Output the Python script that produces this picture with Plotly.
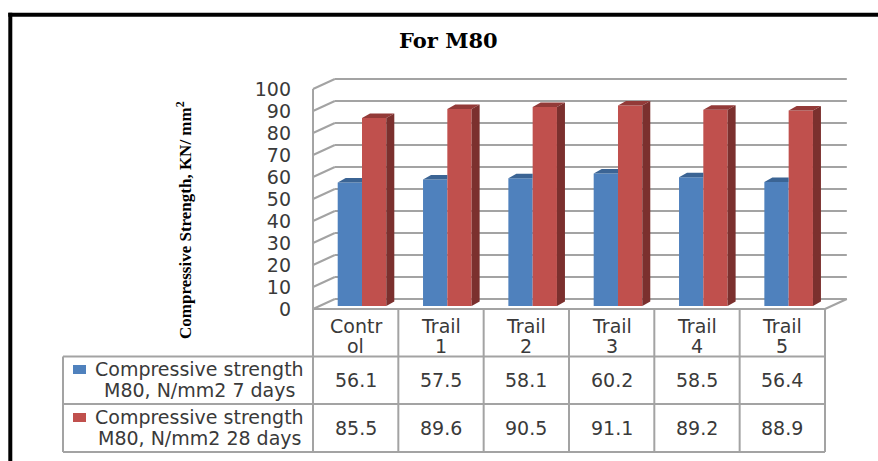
import plotly.graph_objects as go

# Chart data
categories = ["Contr<br>ol", "Trail<br>1", "Trail<br>2", "Trail<br>3", "Trail<br>4", "Trail<br>5"]
series_names = ["Compressive strength<br>M80, N/mm2 7 days", "Compressive strength<br>M80, N/mm2 28 days"]
days_7 = [56.1, 57.5, 58.1, 60.2, 58.5, 56.4]
days_28 = [85.5, 89.6, 90.5, 91.1, 89.2, 88.9]
value_ticks = [0, 10, 20, 30, 40, 50, 60, 70, 80, 90, 100]

W, H = 878, 461
BLUE, BLUE_TOP = "#4F81BD", "#3B6494"
RED, RED_TOP, RED_SIDE = "#C0504D", "#933A38", "#7B302E"
GRID = "#A3A3A3"
TEXT = "#3A3A3A"

# Scales of the bar plane, which fills the whole canvas
CAT_PX, VAL_PX = 85.33, 2.2
X0_PX, Y0_PX = 362.0, 306.0
x_range = [(0 - X0_PX) / CAT_PX, (W - X0_PX) / CAT_PX]
y_range = [(Y0_PX - H) / VAL_PX, Y0_PX / VAL_PX]

# Offsets of the perspective, in axis units
FRONT_DX, FRONT_DY = -6.3 / CAT_PX, -3.0 / VAL_PX
BACK_DX, BACK_DY = 15.5 / CAT_PX, 7.0 / VAL_PX
BAR_DX, BAR_DY = 8.0 / CAT_PX, 4.5 / VAL_PX
BAR_W = 24.3 / CAT_PX
FRONT_LEFT, FRONT_RIGHT = -0.5 + FRONT_DX, 5.5 + FRONT_DX


def px(x):
    return x / W


def py(y):
    return 1 - y / H


shapes = []


def line(x0, y0, x1, y1, color=GRID, width=2, ref="x", layer="below"):
    yref = "y" if ref == "x" else "paper"
    xref = "x" if ref == "x" else "paper"
    shapes.append(dict(type="line", x0=x0, y0=y0, x1=x1, y1=y1, xref=xref, yref=yref,
                       layer=layer, line=dict(color=color, width=width)))


# Walls of the 3-D plot area
for v in value_ticks:
    fy = v + FRONT_DY
    by = v + BACK_DY
    line(FRONT_LEFT, fy, FRONT_LEFT + BACK_DX - FRONT_DX, by)
    line(FRONT_LEFT + BACK_DX - FRONT_DX, by, FRONT_RIGHT + BACK_DX - FRONT_DX, by)
line(FRONT_LEFT, FRONT_DY, FRONT_LEFT, 100 + FRONT_DY)
line(FRONT_RIGHT, FRONT_DY, FRONT_RIGHT + BACK_DX - FRONT_DX, BACK_DY)

# Data table grid
col_edges = [313 + 85.33 * i for i in range(7)]
row_edges = [309, 356.5, 404, 452]
TBL_LEFT = 63
line(px(col_edges[0]), py(row_edges[0]), px(col_edges[-1]), py(row_edges[0]), ref="paper")
for y in row_edges[1:]:
    line(px(TBL_LEFT), py(y), px(col_edges[-1]), py(y), ref="paper")
for x in col_edges:
    line(px(x), py(row_edges[0]), px(x), py(row_edges[-1]), ref="paper")
line(px(TBL_LEFT), py(row_edges[1]), px(TBL_LEFT), py(row_edges[-1]), ref="paper")

# Page frame
shapes.append(dict(type="line", x0=px(10.3), x1=px(10.3), y0=py(12.7), y1=py(H), xref="paper", yref="paper",
                   layer="above", line=dict(color="#000000", width=4)))
shapes.append(dict(type="line", x0=px(8.3), x1=px(W), y0=py(14.7), y1=py(14.7), xref="paper", yref="paper",
                   layer="above", line=dict(color="#000000", width=4)))

# Legend keys inside the table
for top, color in [(365, BLUE), (413, RED)]:
    shapes.append(dict(type="rect", x0=px(73), x1=px(86), y0=py(top), y1=py(top + 9), xref="paper", yref="paper",
                       fillcolor=color, line=dict(width=0), layer="above"))

traces = [
    go.Bar(x=list(range(6)), y=days_7, name="7 days", marker=dict(color=BLUE, line=dict(width=0))),
    go.Bar(x=list(range(6)), y=days_28, name="28 days", marker=dict(color=RED, line=dict(width=0))),
]


def polygons(faces, color):
    xs, ys = [], []
    for face in faces:
        xs += [p[0] for p in face] + [face[0][0], None]
        ys += [p[1] for p in face] + [face[0][1], None]
    return go.Scatter(x=xs, y=ys, mode="lines", fill="toself", fillcolor=color,
                      line=dict(width=0), hoverinfo="skip", showlegend=False, cliponaxis=False)


# Top and side faces follow the bar heights
blue_tops = [[(i - BAR_W, v), (i, v), (i, v + BAR_DY), (i - BAR_W + BAR_DX, v + BAR_DY)]
             for i, v in enumerate(days_7)]
red_tops = [[(i, v), (i + BAR_W, v), (i + BAR_W + BAR_DX, v + BAR_DY), (i + BAR_DX, v + BAR_DY)]
            for i, v in enumerate(days_28)]
red_sides = [[(i + BAR_W, 0), (i + BAR_W + BAR_DX, BAR_DY), (i + BAR_W + BAR_DX, v + BAR_DY), (i + BAR_W, v)]
             for i, v in enumerate(days_28)]
traces += [polygons(blue_tops, BLUE_TOP), polygons(red_tops, RED_TOP), polygons(red_sides, RED_SIDE)]

# Carries the value axis, which sits on the front edge of the plot area
traces.append(go.Scatter(x=[0], y=[0], yaxis="y2", mode="markers", marker=dict(opacity=0),
                         hoverinfo="skip", showlegend=False))

annotations = [
    dict(text="<b>For M80</b>", x=px(448.5), y=py(41), font=dict(family="DejaVu Serif", size=21, color="#000000")),
    dict(text="<b>Compressive Strength, KN/ mm<sup>2</sup></b>", x=px(184), y=py(220), textangle=-90,
         font=dict(family="Liberation Serif", size=17, color="#000000")),
]
TABLE_FONT = dict(family="DejaVu Sans", size=19, color=TEXT)


def text_lines(label, cx, first_y, second_y):
    # Two-line cell text, with the line spacing set by the table rather than the font
    for part, y in zip(label.split("<br>"), (first_y, second_y)):
        annotations.append(dict(text=part, x=px(cx), y=py(y), font=TABLE_FONT))


for i, cat in enumerate(categories):
    cx = (col_edges[i] + col_edges[i + 1]) / 2
    text_lines(cat, cx, 325.5, 346)
    annotations.append(dict(text=str(days_7[i]), x=px(cx), y=py(380), font=TABLE_FONT))
    annotations.append(dict(text=str(days_28[i]), x=px(cx), y=py(428), font=TABLE_FONT))
text_lines(series_names[0], 199, 369.3, 390)
text_lines(series_names[1], 199, 417.3, 438.3)
for a in annotations:
    a.update(xref="paper", yref="paper", showarrow=False, xanchor="center", yanchor="middle")

fig = go.Figure(traces)
fig.update_layout(
    width=W, height=H, autosize=False, margin=dict(l=0, r=0, t=0, b=0),
    paper_bgcolor="white", plot_bgcolor="white", showlegend=False,
    barmode="group", bargap=1 - 2 * BAR_W, bargroupgap=0,
    xaxis=dict(range=x_range, visible=False, domain=[0, 1], fixedrange=True),
    yaxis=dict(range=y_range, visible=False, domain=[0, 1], fixedrange=True),
    yaxis2=dict(range=[y_range[0] - FRONT_DY, y_range[1] - FRONT_DY], overlaying="y", anchor="free",
                position=px(291), side="left", tickmode="array", tickvals=value_ticks,
                ticktext=[str(v) for v in value_ticks], showgrid=False, zeroline=False, showline=False,
                ticks="", tickfont=dict(family="DejaVu Sans", size=19, color=TEXT), fixedrange=True),
    shapes=shapes, annotations=annotations,
)
fig.write_html("out.html", config=dict(displayModeBar=False))
